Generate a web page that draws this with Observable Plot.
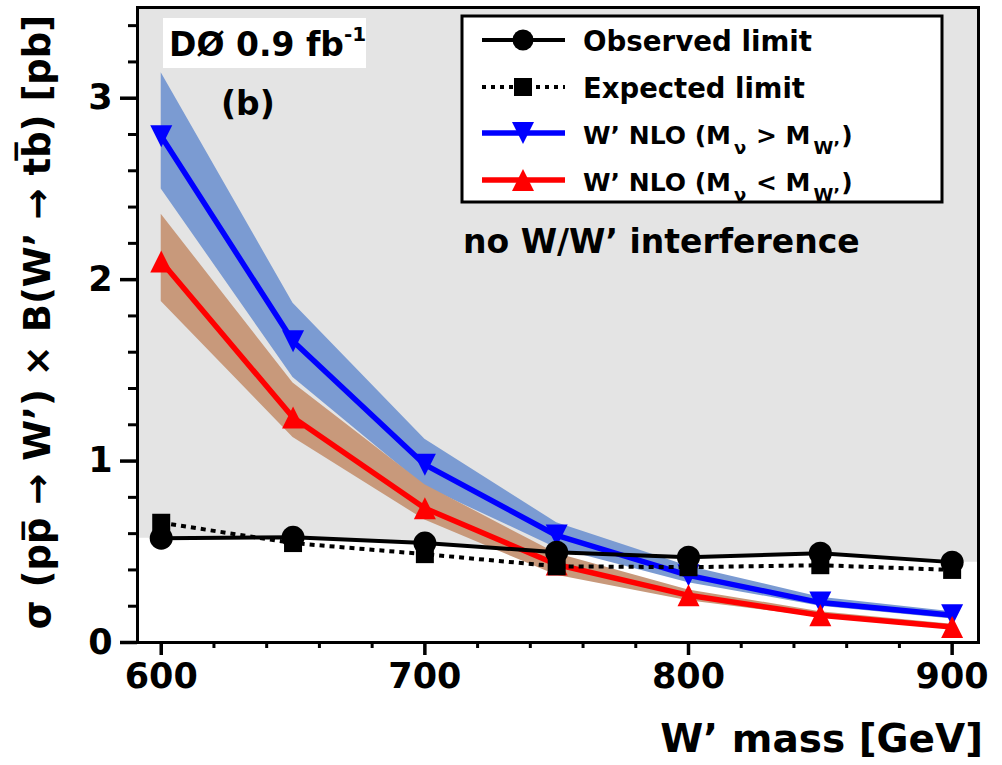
<!DOCTYPE html>
<html>
<head>
<meta charset="utf-8">
<script src="https://cdn.jsdelivr.net/npm/d3@7"></script>
<script src="https://cdn.jsdelivr.net/npm/@observablehq/plot@0.6"></script>
<style>
  html, body { margin: 0; padding: 0; background: #fff; }
  #chart svg { display: block; }
</style>
</head>
<body>
<div id="chart"></div>
<script>
// ---- data ----
const mass = [600, 650, 700, 750, 800, 850, 900];
const observed = [0.575, 0.58, 0.548, 0.498, 0.47, 0.492, 0.443];
const expected = [0.66, 0.548, 0.487, 0.42, 0.415, 0.426, 0.40];
const wpHeavyNu = [2.79, 1.66, 0.98, 0.59, 0.37, 0.22, 0.15];      // M_nu > M_W'
const wpHeavyNuHi = [3.14, 1.87, 1.12, 0.66, 0.42, 0.25, 0.17];
const wpHeavyNuLo = [2.50, 1.46, 0.86, 0.52, 0.33, 0.20, 0.13];
const wpLightNu = [2.10, 1.24, 0.74, 0.43, 0.26, 0.15, 0.085];     // M_nu < M_W'
const wpLightNuHi = [2.36, 1.43, 0.87, 0.49, 0.29, 0.17, 0.10];
const wpLightNuLo = [1.88, 1.13, 0.675, 0.37, 0.23, 0.14, 0.075];
const xDomain = [591, 910];
const yDomain = [0, 3.5];
const xMajor = [600, 700, 800, 900];
const yMajor = [0, 1, 2, 3];

// ---- derived tables ----
const rows = mass.map((m, i) => ({
  m, obs: observed[i], exp: expected[i],
  hv: wpHeavyNu[i], hvHi: wpHeavyNuHi[i], hvLo: wpHeavyNuLo[i],
  lt: wpLightNu[i], ltHi: wpLightNuHi[i], ltLo: wpLightNuLo[i]
}));
// excluded region above observed limit, held flat to the frame edges
const excl = [{m: xDomain[0], y: observed[0]}, ...mass.map((m, i) => ({m, y: observed[i]})),
              {m: xDomain[1], y: observed[observed.length - 1]}];
const xMinor = d3.range(600, 901, 20).filter(v => !xMajor.includes(v));
const yMinor = d3.range(0, 3.41, 0.2).map(v => +v.toFixed(1)).filter(v => !yMajor.includes(v));

// ---- custom symbols (half-size = r) ----
const half = s => Math.sqrt(s / Math.PI);
const symSquare = {draw(c, s) { const r = half(s); c.rect(-r, -r, 2 * r, 2 * r); }};
const symUp = {draw(c, s) { const r = half(s); c.moveTo(0, -r); c.lineTo(r, r); c.lineTo(-r, r); c.closePath(); }};
const symDown = {draw(c, s) { const r = half(s); c.moveTo(0, r); c.lineTo(r, -r); c.lineTo(-r, -r); c.closePath(); }};

const BLUE = "#0000ff", RED = "#ff0000";
const BLUE_BAND = "#7b9bd2", RED_BAND = "#c8997b", GRAY = "#e4e4e4";

const chart = Plot.plot({
  width: 1002,
  height: 765,
  marginLeft: 137,
  marginRight: 24,
  marginTop: 7,
  marginBottom: 123,
  style: {fontFamily: "DejaVu Sans", fontWeight: "bold", background: "#fff", color: "#000"},
  x: {domain: xDomain},
  y: {domain: yDomain},
  marks: [
    Plot.areaY(excl, {x: "m", y1: "y", y2: yDomain[1], fill: GRAY}),
    Plot.areaY(rows, {x: "m", y1: "hvLo", y2: "hvHi", fill: BLUE_BAND}),
    Plot.areaY(rows, {x: "m", y1: "ltLo", y2: "ltHi", fill: RED_BAND}),
    Plot.line(rows, {x: "m", y: "hv", stroke: BLUE, strokeWidth: 5.5}),
    Plot.dot(rows, {x: "m", y: "hv", symbol: symDown, r: 11, fill: BLUE, stroke: "none"}),
    Plot.line(rows, {x: "m", y: "lt", stroke: RED, strokeWidth: 5.5}),
    Plot.dot(rows, {x: "m", y: "lt", symbol: symUp, r: 11, fill: RED, stroke: "none"}),
    Plot.line(rows, {x: "m", y: "exp", stroke: "#000", strokeWidth: 4, strokeDasharray: "5,5", strokeLinecap: "butt"}),
    Plot.dot(rows, {x: "m", y: "exp", symbol: symSquare, r: 9, fill: "#000", stroke: "none"}),
    Plot.line(rows, {x: "m", y: "obs", stroke: "#000", strokeWidth: 4}),
    Plot.dot(rows, {x: "m", y: "obs", r: 11.5, fill: "#000", stroke: "none"}),
    Plot.axisX({ticks: xMajor, tickSize: 13, tickPadding: 8, strokeWidth: 3.5, fontSize: 35, tickFormat: d => d, label: null}),
    Plot.axisX({ticks: xMinor, tickSize: 6, strokeWidth: 3, tickFormat: () => "", label: null}),
    Plot.axisY({ticks: yMajor, tickSize: 17, tickPadding: 8, strokeWidth: 3.5, fontSize: 35, tickFormat: d => d, label: null}),
    Plot.axisY({ticks: yMinor, tickSize: 9, strokeWidth: 3, tickFormat: () => "", label: null}),
    Plot.frame({stroke: "#000", strokeWidth: 3})
  ]
});
document.getElementById("chart").appendChild(chart);

// ---- annotations, axis titles and legend ----
const svg = d3.select(chart);
const g = svg.append("g").attr("font-family", "DejaVu Sans").attr("font-weight", "bold")
  .attr("fill", "#000").attr("text-anchor", "start");

// D0 label
g.append("rect").attr("x", 163).attr("y", 18).attr("width", 203).attr("height", 50).attr("fill", "#fff");
const d0 = g.append("text").attr("x", 169).attr("y", 56).attr("font-size", 33);
d0.append("tspan").text("DØ 0.9 fb");
d0.append("tspan").attr("font-size", 20).attr("dy", -15).text("-1");
g.append("text").attr("x", 221).attr("y", 115).attr("font-size", 33).text("(b)");
g.append("text").attr("x", 463).attr("y", 253).attr("font-size", 33).text("no W/W’ interference");

// axis titles
g.append("text").attr("x", 983).attr("y", 752).attr("text-anchor", "end").attr("font-size", 39).text("W’ mass [GeV]");
g.append("text").attr("transform", "translate(50,322) rotate(-90)").attr("text-anchor", "middle")
  .attr("font-size", 37).text("σ (pp\u0305 → W’) × B(W’ → tb\u0305) [pb]");

// legend
const lg = g.append("g");
lg.append("rect").attr("x", 462).attr("y", 16).attr("width", 480).attr("height", 186)
  .attr("fill", "#fff").attr("stroke", "#000").attr("stroke-width", 3);
const entries = [
  {y: 40, color: "#000", w: 4, dash: null, sym: d3.symbolCircle, r: 10.5, len: 229, fs: 28, label: ["Observed limit"]},
  {y: 87, color: "#000", w: 4, dash: "4,5", sym: symSquare, r: 9, len: 222, fs: 28, label: ["Expected limit"]},
  {y: 133, color: BLUE, w: 5.5, dash: null, sym: symDown, r: 11, len: null, fs: 25, label: ["W’ NLO (M", "ν", " > M", "W’", ")"]},
  {y: 180, color: RED, w: 5.5, dash: null, sym: symUp, r: 11, len: null, fs: 25, label: ["W’ NLO (M", "ν", " < M", "W’", ")"]}
];
for (const e of entries) {
  lg.append("line").attr("x1", 482).attr("x2", 565).attr("y1", e.y).attr("y2", e.y)
    .attr("stroke", e.color).attr("stroke-width", e.w).attr("stroke-dasharray", e.dash);
  lg.append("path").attr("transform", `translate(523,${e.y})`)
    .attr("d", d3.symbol(e.sym, Math.PI * e.r * e.r)()).attr("fill", e.color);
  const t = lg.append("text").attr("x", 583).attr("y", e.y + 11).attr("font-size", e.fs);
  if (e.len) t.attr("textLength", e.len).attr("lengthAdjust", "spacingAndGlyphs");
  e.label.forEach((s, i) => {
    const sp = t.append("tspan").text(s);
    if (i === 1 || i === 3) sp.attr("font-size", 18).attr("dy", 10).attr("dx", 3);
    if (i === 2 || i === 4) sp.attr("dy", -10).attr("dx", 1);
  });
}
</script>
</body>
</html>
